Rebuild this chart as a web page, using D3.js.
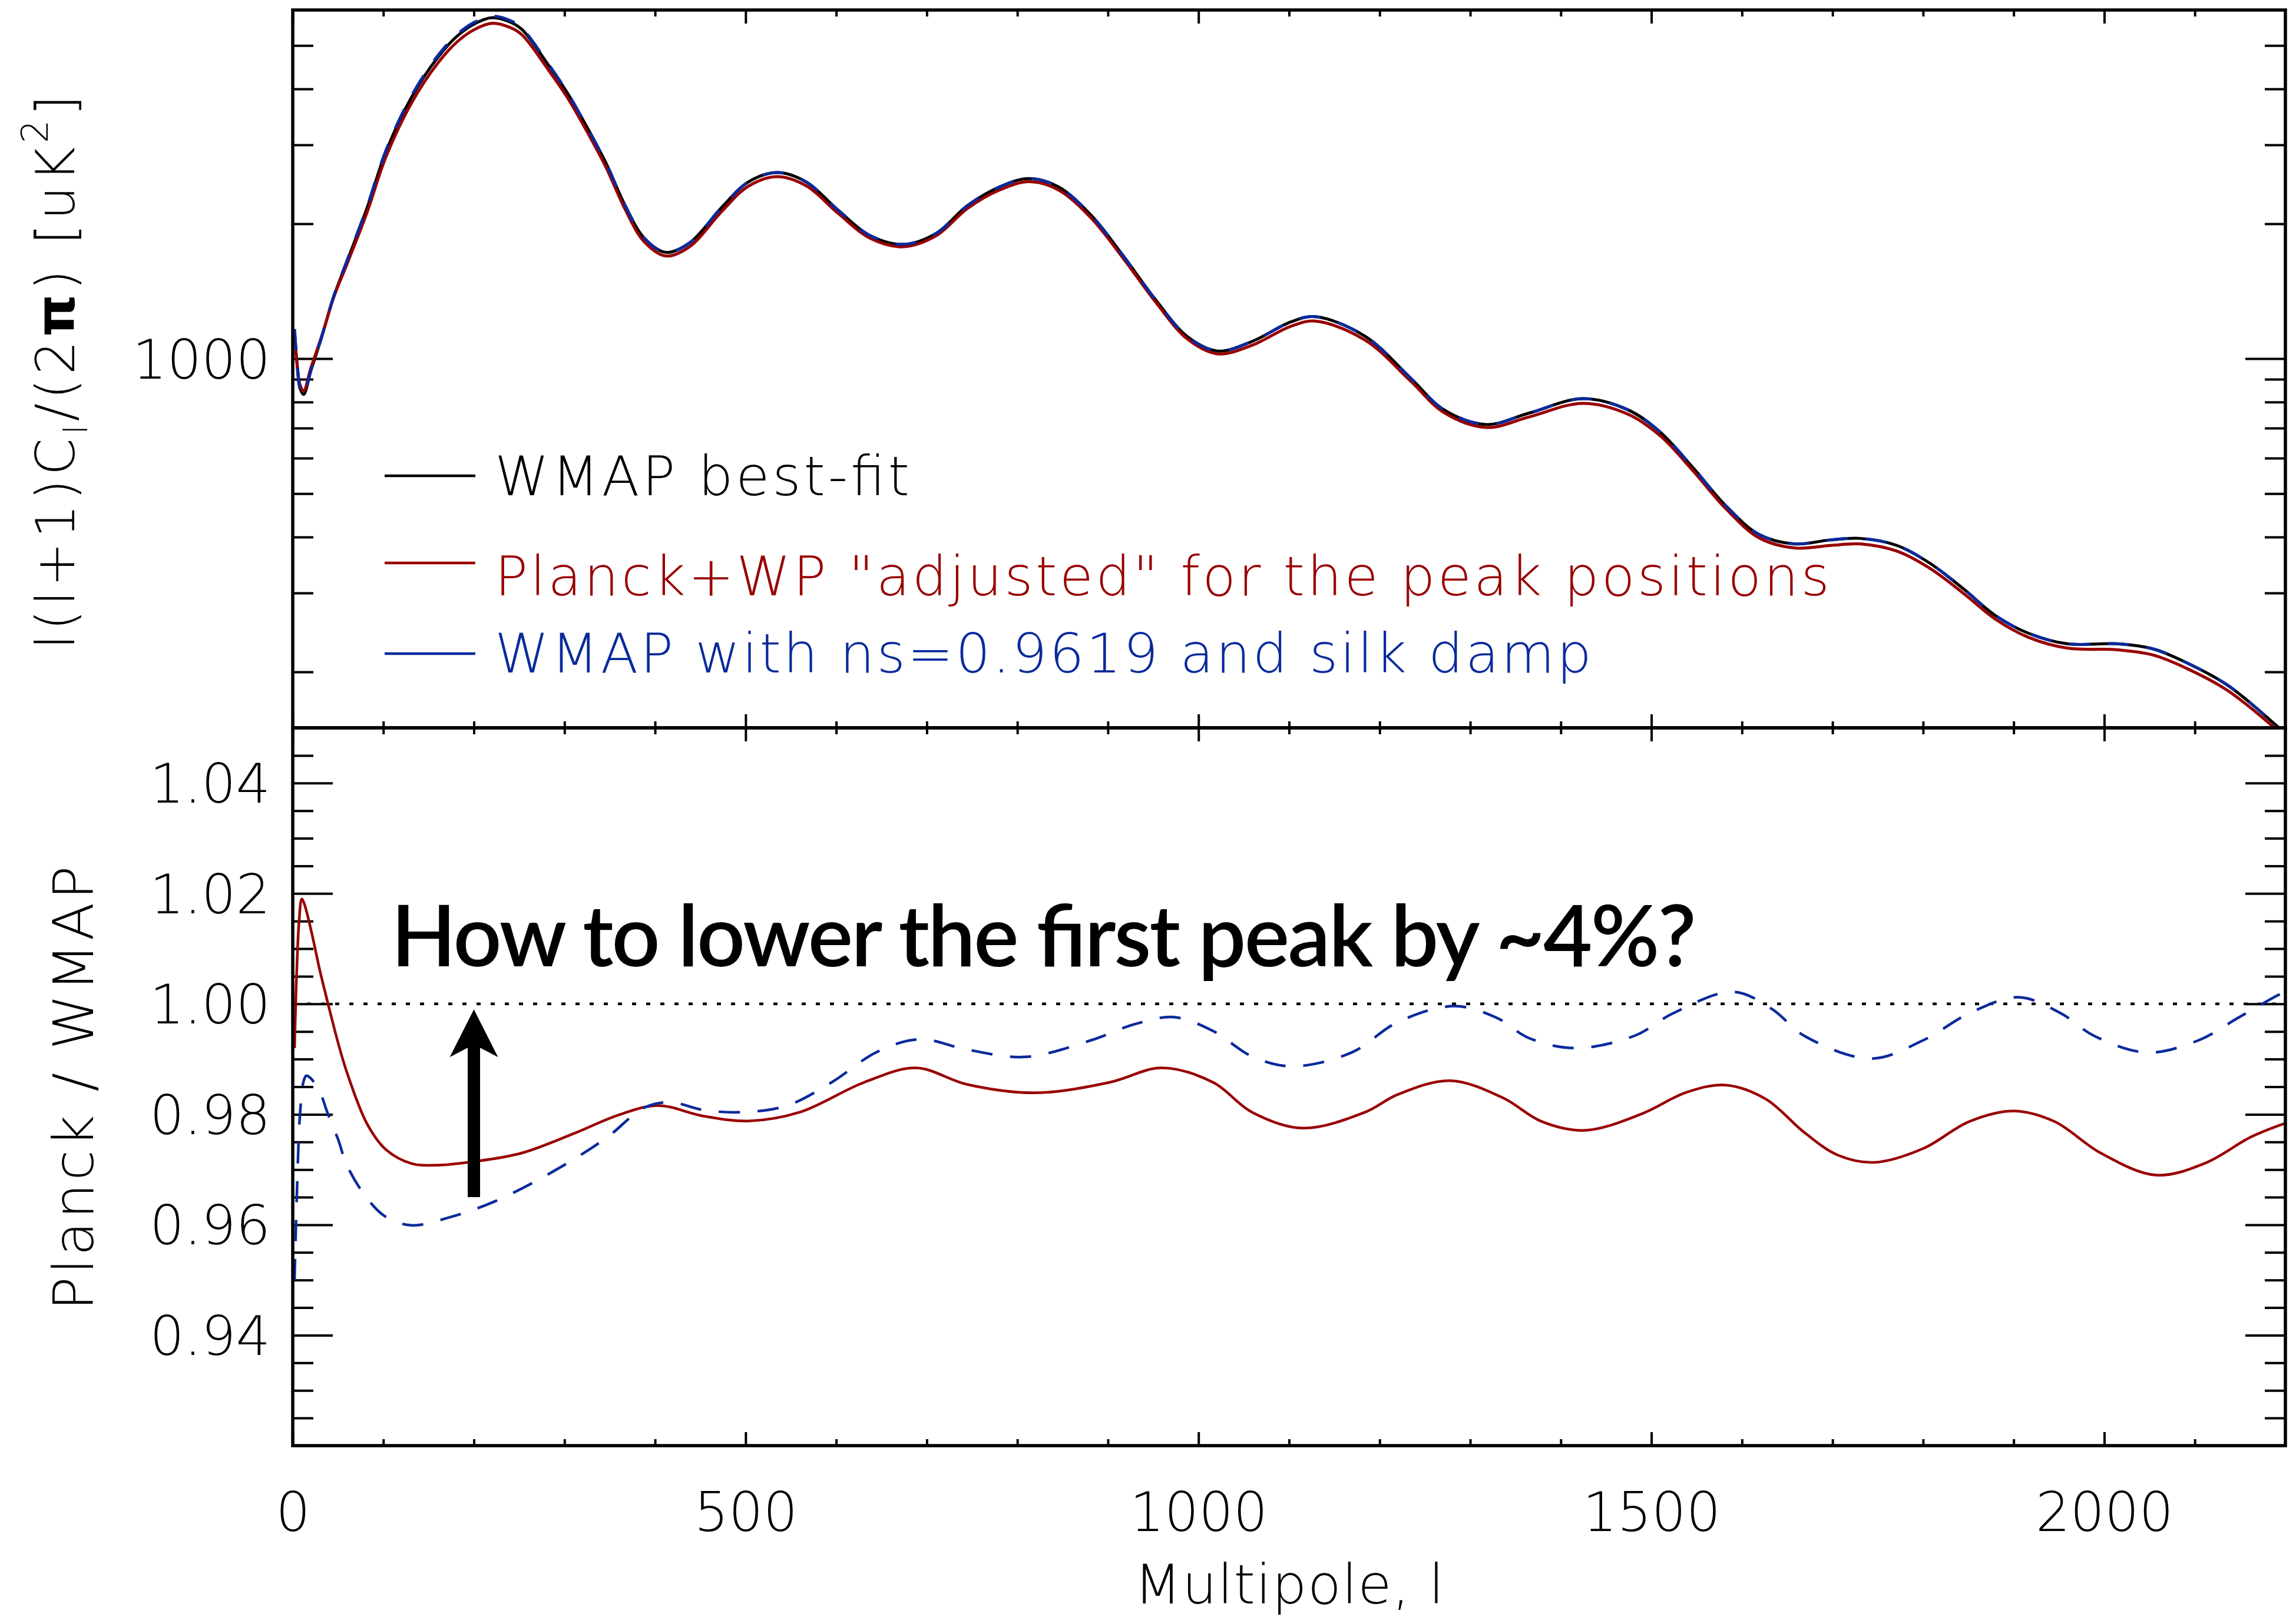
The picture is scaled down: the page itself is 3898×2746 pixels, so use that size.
<!DOCTYPE html>
<html>
<head>
<meta charset="utf-8">
<script src="https://cdn.jsdelivr.net/npm/d3@7"></script>
<style>
  body { margin: 0; background: #fff; }
  svg { display: block; }
</style>
</head>
<body>
<div id="chart"></div>
<script>
// Datos
// Panel superior: l(l+1)Cl/2pi [uK^2]
const ell = [2,5,8,12,20,32,45,60,82,103,131,160,181,200,220,240,253,282,303,324,346,367,388,412,438,474,503,535,567,602,638,674,710,745,781,813,845,881,916,952,988,1021,1059,1102,1129,1184,1234,1271,1318,1365,1424,1474,1510,1546,1582,1619,1658,1698,1731,1771,1807,1844,1880,1916,1959,2014,2054,2090,2134,2162,2188,2200];
const dlWmap = [1150,960,860,832,940,1118,1370,1649,2168,2900,3828,4700,5236,5580,5768,5640,5431,4530,3925,3311,2729,2197,1859,1727,1812,2180,2479,2602,2479,2146,1880,1799,1902,2197,2420,2524,2420,2095,1706,1359,1119,1040,1092,1208,1241,1122,906,769,713,756,814,769,685,571,470,405,386,394,397,383,350,307,267,244,231,231,225,210,188,170,153,146];
const dlPlanck = [1141,967,874,847,953,1124,1366,1628,2120,2823,3717,4563,5084,5420,5606,5485,5284,4416,3831,3236,2670,2153,1824,1695,1777,2135,2426,2549,2431,2111,1854,1777,1879,2165,2382,2483,2382,2064,1684,1343,1105,1025,1071,1181,1213,1100,892,758,702,741,795,752,672,562,463,398,378,383,386,372,341,300,262,239,226,224,218,204,183,166,150,143];
const dlWmapNs = [1165,965,858,830,940,1120,1375,1658,2182,2920,3858,4740,5280,5625,5812,5685,5465,4552,3935,3311,2729,2197,1859,1727,1812,2180,2479,2602,2479,2146,1880,1799,1902,2197,2420,2524,2420,2095,1706,1359,1119,1040,1092,1208,1241,1122,906,769,713,756,814,769,685,571,470,405,386,394,397,383,350,307,267,244,231,231,225,210,188,170,153,146];

// Panel inferior: cocientes
const ellRed = [2,4,7,10,13,21,30,39,50,60,82,103,131,160,203,253,310,360,403,453,503,560,631,688,745,820,902,959,1016,1059,1115,1184,1220,1278,1336,1379,1427,1488,1539,1582,1626,1669,1706,1746,1800,1851,1900,1945,1996,2057,2112,2162,2200];
const ratioPlanck = [0.992,1.004,1.015,1.019,1.018,1.0128,1.006,1.000,0.993,0.9875,0.9783,0.9736,0.9711,0.9708,0.9715,0.9730,0.9765,0.9799,0.9816,0.9797,0.9788,0.9804,0.9858,0.9884,0.9854,0.9839,0.9858,0.9884,0.9858,0.9804,0.9775,0.9804,0.9836,0.9861,0.9830,0.9787,0.9771,0.9800,0.9840,0.9853,0.9828,0.9767,0.9726,0.9713,0.9738,0.9787,0.9806,0.9787,0.9730,0.9690,0.9712,0.9759,0.9784];
const ellBlue = [2,5,8,12,15,20,30,39,50,60,82,103,131,174,224,289,346,388,417,453,496,546,595,645,692,745,809,881,931,973,1016,1059,1104,1169,1220,1282,1329,1365,1416,1481,1524,1590,1633,1669,1742,1800,1851,1905,1952,1989,2047,2104,2148,2192,2200];
const ratioWmapNs = [0.950,0.968,0.980,0.986,0.987,0.9865,0.984,0.980,0.9755,0.9707,0.9648,0.9614,0.9599,0.9614,0.9643,0.9698,0.9757,0.9812,0.9822,0.9808,0.9804,0.9816,0.9858,0.9913,0.9936,0.9917,0.9904,0.9934,0.9964,0.9976,0.9951,0.9905,0.9887,0.9912,0.9967,0.9996,0.9975,0.9938,0.9920,0.9942,0.9983,1.0022,0.9991,0.9942,0.9901,0.9934,0.9983,1.0012,0.9983,0.9942,0.9912,0.9934,0.9975,1.0016,1.0022];

// Ejes
const xTicks = [0, 500, 1000, 1500, 2000];
const topTicks = [1000];
const topMinorTicks = [200,300,400,500,600,700,800,900,2000,3000,4000,5000];
const ratioTicks = [0.94, 0.96, 0.98, 1.00, 1.02, 1.04];

// Leyenda y anotacion
const legendLabels = ['WMAP best-fit', 'Planck+WP "adjusted" for the peak positions', 'WMAP with ns=0.9619 and silk damp'];
const arrowEll = 200, arrowFrom = 0.965, arrowTo = 0.999;
const annotation = 'How to lower the first peak by ~4%?';

//Colores fijos
const COLOR_BLACK = '#000000',
COLOR_RED = '#990000',
COLOR_BLUE = '#0a2a9c';

const FONT = '"DejaVu Sans", sans-serif';

const W = 3898, H = 2746;
const pLeft = 497, pRight = 3880, pTop = 17, pMid = 1236, pBottom = 2455;

const svg = d3.select('#chart')
  .append('svg')
    .attr('width', W)
    .attr('height', H)
    .style('background', '#fff');

const x = d3.scaleLinear().domain([0, 2200]).range([pLeft, pRight]);
const yTop = d3.scaleLog().domain([150, 6000]).range([pMid, pTop]);
const yBot = d3.scaleLinear().domain([0.92, 1.05]).range([pBottom, pMid]);

// clips
const defs = svg.append('defs');
defs.append('clipPath').attr('id', 'clipTop').append('rect')
  .attr('x', pLeft).attr('y', pTop).attr('width', pRight - pLeft).attr('height', pMid - pTop);
defs.append('clipPath').attr('id', 'clipBot').append('rect')
  .attr('x', pLeft).attr('y', pMid).attr('width', pRight - pLeft).attr('height', pBottom - pMid);

// ---- ticks ----
const xMinor = d3.range(100, 2200, 100).filter(v => v % 500 !== 0);
const botMinor = d3.range(185, 210).filter(i => i % 4 !== 0).map(i => +(i * 0.005).toFixed(3));

function styleTicks(g) {
  g.select('.domain').remove();
  g.selectAll('.tick line').attr('stroke', '#000').attr('stroke-width', 4);
}

function xTickRow(yPos, isTopEdge, withLabels) {
  const axisMaj = (isTopEdge ? d3.axisTop(x) : d3.axisBottom(x)).tickValues(xTicks).tickSize(-23).tickFormat(withLabels ? d3.format('d') : '');
  const axisMin = (isTopEdge ? d3.axisTop(x) : d3.axisBottom(x)).tickValues(xMinor).tickSize(-11).tickFormat('');
  const g1 = svg.append('g').attr('transform', 'translate(0,' + yPos + ')').call(axisMaj).call(styleTicks);
  svg.append('g').attr('transform', 'translate(0,' + yPos + ')').call(axisMin).call(styleTicks);
  if (withLabels) {
    g1.selectAll('text')
      .attr('y', 145).attr('dy', 0)
      .attr('font-family', FONT).attr('font-weight', 200)
      .attr('font-size', 92).attr('fill', '#000');
  }
}

function yTickRow(scale, majors, minors, withLabels, fmt) {
  [[d3.axisLeft, pLeft], [d3.axisRight, pRight]].forEach(function(p, side) {
    const gMaj = svg.append('g').attr('transform', 'translate(' + p[1] + ',0)')
      .call(p[0](scale).tickValues(majors).tickSize(-68).tickPadding(38).tickFormat(withLabels && side === 0 ? fmt : ''))
      .call(styleTicks);
    svg.append('g').attr('transform', 'translate(' + p[1] + ',0)')
      .call(p[0](scale).tickValues(minors).tickSize(-35).tickFormat(''))
      .call(styleTicks);
    if (withLabels && side === 0) {
      gMaj.selectAll('text')
        .attr('dy', 33)
        .attr('font-family', FONT).attr('font-weight', 200)
        .attr('font-size', 92).attr('fill', '#000');
    }
  });
}

// panel superior
xTickRow(pTop, true, false);
xTickRow(pMid, false, false);
yTickRow(yTop, topTicks, topMinorTicks, true, d3.format('d'));
// panel inferior
xTickRow(pMid, true, false);
xTickRow(pBottom, false, true);
yTickRow(yBot, ratioTicks, botMinor, true, d3.format('.2f'));

// ---- curvas panel superior ----
const lineTop = d3.line()
  .x(d => x(d[0])).y(d => yTop(d[1]))
  .curve(d3.curveCatmullRom.alpha(0.5));

const gTop = svg.append('g').attr('clip-path', 'url(#clipTop)');
gTop.append('path').datum(d3.zip(ell, dlWmap))
  .attr('d', lineTop).attr('fill', 'none').attr('stroke', COLOR_BLACK).attr('stroke-width', 5);
gTop.append('path').datum(d3.zip(ell, dlPlanck))
  .attr('d', lineTop).attr('fill', 'none').attr('stroke', COLOR_RED).attr('stroke-width', 5);
gTop.append('path').datum(d3.zip(ell, dlWmapNs))
  .attr('d', lineTop).attr('fill', 'none').attr('stroke', COLOR_BLUE).attr('stroke-width', 5)
  .attr('stroke-dasharray', '36,30');

// ---- curvas panel inferior ----
const lineBot = d3.line()
  .x(d => x(d[0])).y(d => yBot(d[1]))
  .curve(d3.curveCatmullRom.alpha(0.5));

const gBot = svg.append('g').attr('clip-path', 'url(#clipBot)');
gBot.append('line')
  .attr('x1', pLeft).attr('x2', pRight).attr('y1', yBot(1)).attr('y2', yBot(1))
  .attr('stroke', '#000').attr('stroke-width', 4.5).attr('stroke-dasharray', '7,17');
gBot.append('path').datum(d3.zip(ellRed, ratioPlanck))
  .attr('d', lineBot).attr('fill', 'none').attr('stroke', COLOR_RED).attr('stroke-width', 4.5);
gBot.append('path').datum(d3.zip(ellBlue, ratioWmapNs))
  .attr('d', lineBot).attr('fill', 'none').attr('stroke', COLOR_BLUE).attr('stroke-width', 4.5)
  .attr('stroke-dasharray', '36,30');

// flecha
const ax = x(arrowEll), tipY = yBot(arrowTo), baseY = yBot(arrowFrom);
svg.append('path')
  .attr('d', 'M' + ax + ',' + tipY +
    'L' + (ax + 41) + ',' + (tipY + 81) +
    'L' + (ax + 10.5) + ',' + (tipY + 65) +
    'L' + (ax + 10.5) + ',' + baseY +
    'L' + (ax - 10.5) + ',' + baseY +
    'L' + (ax - 10.5) + ',' + (tipY + 65) +
    'L' + (ax - 41) + ',' + (tipY + 81) + 'Z')
  .attr('fill', '#000');

// marco
[[pTop, pMid], [pMid, pBottom]].forEach(function(r) {
  svg.append('rect')
    .attr('x', pLeft).attr('y', r[0]).attr('width', pRight - pLeft).attr('height', r[1] - r[0])
    .attr('fill', 'none').attr('stroke', '#000').attr('stroke-width', 5.5);
});

// leyenda
const legendColors = [COLOR_BLACK, COLOR_RED, COLOR_BLUE];
const legendLineY = [808, 956, 1110];
const legendBase = [841, 1011, 1142];
const legendLen = [704, 2266, 1862];
legendLabels.forEach(function(lab, i) {
  svg.append('line')
    .attr('x1', 653).attr('x2', 807).attr('y1', legendLineY[i]).attr('y2', legendLineY[i])
    .attr('stroke', legendColors[i]).attr('stroke-width', 4.5);
  svg.append('text')
    .attr('x', 840).attr('y', legendBase[i])
    .attr('font-family', FONT).attr('font-weight', 200).attr('font-size', 93)
    .attr('fill', legendColors[i])
    .attr('textLength', legendLen[i]).attr('lengthAdjust', 'spacing')
    .text(lab);
});

// anotacion
svg.append('text')
  .attr('x', 664).attr('y', 1641)
  .attr('font-family', 'Lato, "Open Sans", sans-serif').attr('font-weight', 600).attr('font-size', 144)
  .attr('fill', '#000')
  .attr('textLength', 2216).attr('lengthAdjust', 'spacing')
  .text(annotation);

// titulos de ejes
svg.append('text')
  .attr('x', (pLeft + pRight) / 2).attr('y', 2723)
  .attr('text-anchor', 'middle')
  .attr('font-family', FONT).attr('font-weight', 200).attr('font-size', 93)
  .attr('textLength', 526).attr('lengthAdjust', 'spacing')
  .text('Multipole, l');

svg.append('text')
  .attr('transform', 'translate(158,1848) rotate(-90)')
  .attr('text-anchor', 'middle')
  .attr('font-family', FONT).attr('font-weight', 200).attr('font-size', 95)
  .attr('textLength', 755).attr('lengthAdjust', 'spacing')
  .text('Planck / WMAP');

const yt = svg.append('text')
  .attr('transform', 'translate(126,632) rotate(-90)')
  .attr('text-anchor', 'middle')
  .attr('font-family', FONT).attr('font-weight', 200).attr('font-size', 91)
  .attr('textLength', 941).attr('lengthAdjust', 'spacing');
yt.append('tspan').text('l(l+1)C');
yt.append('tspan').attr('dy', 22).attr('font-size', 55).text('l');
yt.append('tspan').attr('dy', -22).text('/(2');
yt.append('tspan').attr('font-weight', 700).text('\u03c0');
yt.append('tspan').text(') [uK');
yt.append('tspan').attr('dy', -45).attr('font-size', 62).text('2');
yt.append('tspan').attr('dy', 45).text(']');
</script>
</body>
</html>
